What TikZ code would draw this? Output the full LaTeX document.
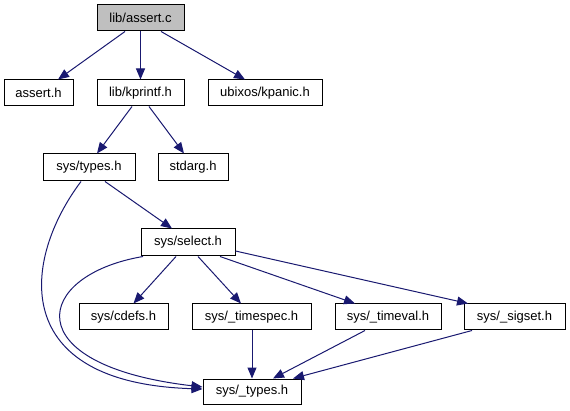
\documentclass[tikz,border=0pt]{standalone}
\usepackage{fontspec}
\setmainfont{Liberation Sans}
\usetikzlibrary{arrows.meta}
\definecolor{edgecol}{HTML}{191970}
\begin{document}
\begin{tikzpicture}[x=1pt,y=-1pt,
  box/.style={draw=black,line width=1pt,fill=white,rectangle,inner sep=0pt,
    minimum height=26pt,font=\fontsize{13}{15}\selectfont},
  rootbox/.style={box,fill=black!25},
  dep/.style={draw=edgecol,line width=1pt,-{Triangle[length=11pt,width=9pt]}}]
\useasboundingbox (0,0) rectangle (570,411);
\node[rootbox,minimum width=87pt] (assertc) at (140.5,18) {lib/assert.c};
\node[box,minimum width=69pt] (asserth) at (38.5,93) {assert.h};
\node[box,minimum width=87pt] (kprintf) at (140.5,93) {lib/kprintf.h};
\node[box,minimum width=114pt] (kpanic) at (265,93) {ubixos/kpanic.h};
\node[box,minimum width=92pt,minimum height=27pt] (types) at (89,167.5) {sys/types.h};
\node[box,minimum width=70pt,minimum height=27pt] (stdarg) at (193,167.5) {stdarg.h};
\node[box,minimum width=94pt,minimum height=27pt] (select) at (188,242.5) {sys/select.h};
\node[box,minimum width=89pt] (cdefs) at (123.5,317) {sys/cdefs.h};
\node[box,minimum width=119pt] (timespec) at (251.5,317) {sys/\_timespec.h};
\node[box,minimum width=106pt] (timeval) at (388,317) {sys/\_timeval.h};
\node[box,minimum width=101pt] (sigset) at (514.5,317) {sys/\_sigset.h};
\node[box,minimum width=98pt,minimum height=25pt] (utypes) at (252,391.5) {sys/\_types.h};

\draw[dep] ([xshift=-15.5pt]assertc.south) -- ([xshift=19.5pt]asserth.north);
\draw[dep] (assertc.south) -- (kprintf.north);
\draw[dep] ([xshift=20.5pt]assertc.south) -- ([xshift=-20pt]kpanic.north);
\draw[dep] ([xshift=-8.5pt]kprintf.south) -- ([xshift=8pt]types.north);
\draw[dep] ([xshift=8.5pt]kprintf.south) -- ([xshift=-9pt]stdarg.north);
\draw[dep] ([xshift=16pt]types.south) -- ([xshift=-16pt]select.north);
\draw[dep] ([xshift=-12pt]select.south) -- ([xshift=10pt]cdefs.north);
\draw[dep] ([xshift=10pt]select.south) -- ([xshift=-10.5pt]timespec.north);
\draw[dep] ([xshift=32pt]select.south) -- ([xshift=-33pt]timeval.north);
\draw[dep] ([yshift=-8.5pt]select.east) -- ([xshift=-46.5pt]sigset.north);
\draw[dep] ([xshift=-8pt]types.south) .. controls (22,260) and (8,383) .. ([yshift=2.5pt]utypes.west);
\draw[dep] ([xshift=-45pt]select.south) .. controls (34,275) and (14,365) .. ([yshift=4.5pt]utypes.west);
\draw[dep] ([xshift=0.5pt]timespec.south) -- (utypes.north);
\draw[dep] ([xshift=-23pt]timeval.south) -- ([xshift=21pt]utypes.north);
\draw[dep] ([xshift=-42.5pt]sigset.south) -- ([xshift=41pt]utypes.north);
\end{tikzpicture}
\end{document}
